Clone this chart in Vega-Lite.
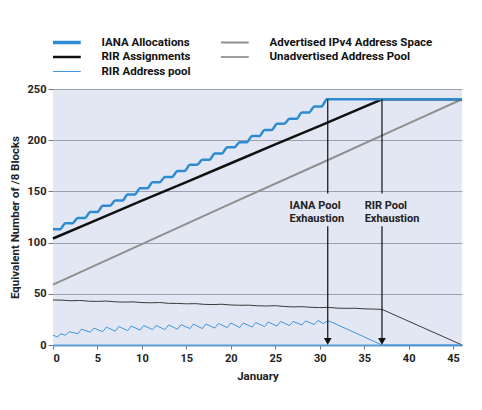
{
  "$schema": "https://vega.github.io/schema/vega-lite/v6.json",
  "width": 409,
  "height": 256,
  "autosize": {"type": "none"},
  "padding": {"left": 53, "top": 89, "right": 20, "bottom": 65},
  "background": "white",
  "config": {
    "font": "Roboto, Liberation Sans, sans-serif",
    "view": {"fill": "#e3e7f4", "stroke": null},
    "axis": {
      "labelFont": "Roboto, Liberation Sans, sans-serif",
      "titleFont": "Roboto, Liberation Sans, sans-serif",
      "labelFontWeight": "bold",
      "labelFontSize": 11,
      "labelColor": "#222222",
      "titleFontWeight": "bold",
      "titleFontSize": 11.5,
      "titleColor": "#222222",
      "tickColor": "#777777"
    },
    "legend": {
      "labelFont": "Roboto, Liberation Sans, sans-serif"
    }
  },
  "datasets": {
    "lines": [
      {"series": "IANA Allocations", "x": 0, "y": 113},
      {"series": "IANA Allocations", "x": 0.8, "y": 113},
      {"series": "IANA Allocations", "x": 1.4, "y": 119},
      {"series": "IANA Allocations", "x": 2.2, "y": 119},
      {"series": "IANA Allocations", "x": 2.8, "y": 124},
      {"series": "IANA Allocations", "x": 3.6, "y": 124},
      {"series": "IANA Allocations", "x": 4.2, "y": 130},
      {"series": "IANA Allocations", "x": 5.0, "y": 130},
      {"series": "IANA Allocations", "x": 5.6, "y": 136},
      {"series": "IANA Allocations", "x": 6.4, "y": 136},
      {"series": "IANA Allocations", "x": 7.0, "y": 141},
      {"series": "IANA Allocations", "x": 7.8, "y": 141},
      {"series": "IANA Allocations", "x": 8.4, "y": 147},
      {"series": "IANA Allocations", "x": 9.2, "y": 147},
      {"series": "IANA Allocations", "x": 9.8, "y": 153},
      {"series": "IANA Allocations", "x": 10.6, "y": 153},
      {"series": "IANA Allocations", "x": 11.2, "y": 159},
      {"series": "IANA Allocations", "x": 12.0, "y": 159},
      {"series": "IANA Allocations", "x": 12.6, "y": 164},
      {"series": "IANA Allocations", "x": 13.4, "y": 164},
      {"series": "IANA Allocations", "x": 14.0, "y": 170},
      {"series": "IANA Allocations", "x": 14.8, "y": 170},
      {"series": "IANA Allocations", "x": 15.4, "y": 176},
      {"series": "IANA Allocations", "x": 16.2, "y": 176},
      {"series": "IANA Allocations", "x": 16.8, "y": 181},
      {"series": "IANA Allocations", "x": 17.6, "y": 181},
      {"series": "IANA Allocations", "x": 18.2, "y": 187},
      {"series": "IANA Allocations", "x": 19.0, "y": 187},
      {"series": "IANA Allocations", "x": 19.6, "y": 193},
      {"series": "IANA Allocations", "x": 20.4, "y": 193},
      {"series": "IANA Allocations", "x": 21.0, "y": 198},
      {"series": "IANA Allocations", "x": 21.8, "y": 198},
      {"series": "IANA Allocations", "x": 22.4, "y": 204},
      {"series": "IANA Allocations", "x": 23.2, "y": 204},
      {"series": "IANA Allocations", "x": 23.8, "y": 210},
      {"series": "IANA Allocations", "x": 24.6, "y": 210},
      {"series": "IANA Allocations", "x": 25.2, "y": 216},
      {"series": "IANA Allocations", "x": 26.0, "y": 216},
      {"series": "IANA Allocations", "x": 26.6, "y": 221},
      {"series": "IANA Allocations", "x": 27.4, "y": 221},
      {"series": "IANA Allocations", "x": 28.0, "y": 227},
      {"series": "IANA Allocations", "x": 28.8, "y": 227},
      {"series": "IANA Allocations", "x": 29.4, "y": 233},
      {"series": "IANA Allocations", "x": 30.2, "y": 233},
      {"series": "IANA Allocations", "x": 30.8, "y": 240},
      {"series": "IANA Allocations", "x": 46, "y": 240},

      {"series": "Advertised IPv4 Address Space", "x": 0, "y": 59},
      {"series": "Advertised IPv4 Address Space", "x": 10, "y": 98.5},
      {"series": "Advertised IPv4 Address Space", "x": 20, "y": 138},
      {"series": "Advertised IPv4 Address Space", "x": 30, "y": 177},
      {"series": "Advertised IPv4 Address Space", "x": 40, "y": 216.5},
      {"series": "Advertised IPv4 Address Space", "x": 46, "y": 240},

      {"series": "RIR Assignments", "x": 0, "y": 104},
      {"series": "RIR Assignments", "x": 5, "y": 122.5},
      {"series": "RIR Assignments", "x": 10, "y": 141},
      {"series": "RIR Assignments", "x": 15, "y": 159},
      {"series": "RIR Assignments", "x": 20, "y": 177.5},
      {"series": "RIR Assignments", "x": 25, "y": 196},
      {"series": "RIR Assignments", "x": 30, "y": 214},
      {"series": "RIR Assignments", "x": 35, "y": 232.5},
      {"series": "RIR Assignments", "x": 37, "y": 240},
      {"series": "RIR Assignments", "x": 46, "y": 240},

      {"series": "Unadvertised Address Pool", "x": 0, "y": 44},
      {"series": "Unadvertised Address Pool", "x": 1, "y": 43.8},
      {"series": "Unadvertised Address Pool", "x": 2, "y": 43.2},
      {"series": "Unadvertised Address Pool", "x": 3, "y": 43.5},
      {"series": "Unadvertised Address Pool", "x": 4, "y": 42.8},
      {"series": "Unadvertised Address Pool", "x": 5, "y": 42.6},
      {"series": "Unadvertised Address Pool", "x": 6, "y": 42.9},
      {"series": "Unadvertised Address Pool", "x": 7, "y": 42.2},
      {"series": "Unadvertised Address Pool", "x": 8, "y": 41.9},
      {"series": "Unadvertised Address Pool", "x": 9, "y": 42.1},
      {"series": "Unadvertised Address Pool", "x": 10, "y": 41.4},
      {"series": "Unadvertised Address Pool", "x": 11, "y": 41.2},
      {"series": "Unadvertised Address Pool", "x": 12, "y": 41.5},
      {"series": "Unadvertised Address Pool", "x": 13, "y": 40.7},
      {"series": "Unadvertised Address Pool", "x": 14, "y": 40.6},
      {"series": "Unadvertised Address Pool", "x": 15, "y": 40.2},
      {"series": "Unadvertised Address Pool", "x": 16, "y": 40.4},
      {"series": "Unadvertised Address Pool", "x": 17, "y": 39.7},
      {"series": "Unadvertised Address Pool", "x": 18, "y": 39.5},
      {"series": "Unadvertised Address Pool", "x": 19, "y": 39.8},
      {"series": "Unadvertised Address Pool", "x": 20, "y": 39.1},
      {"series": "Unadvertised Address Pool", "x": 21, "y": 38.8},
      {"series": "Unadvertised Address Pool", "x": 22, "y": 38.9},
      {"series": "Unadvertised Address Pool", "x": 23, "y": 38.3},
      {"series": "Unadvertised Address Pool", "x": 24, "y": 38.1},
      {"series": "Unadvertised Address Pool", "x": 25, "y": 38.4},
      {"series": "Unadvertised Address Pool", "x": 26, "y": 37.6},
      {"series": "Unadvertised Address Pool", "x": 27, "y": 37.2},
      {"series": "Unadvertised Address Pool", "x": 28, "y": 37.4},
      {"series": "Unadvertised Address Pool", "x": 29, "y": 36.8},
      {"series": "Unadvertised Address Pool", "x": 30, "y": 36.5},
      {"series": "Unadvertised Address Pool", "x": 31, "y": 36.7},
      {"series": "Unadvertised Address Pool", "x": 32, "y": 36.0},
      {"series": "Unadvertised Address Pool", "x": 33, "y": 35.8},
      {"series": "Unadvertised Address Pool", "x": 34, "y": 35.9},
      {"series": "Unadvertised Address Pool", "x": 35, "y": 35.3},
      {"series": "Unadvertised Address Pool", "x": 36, "y": 35.1},
      {"series": "Unadvertised Address Pool", "x": 37, "y": 34.8},
      {"series": "Unadvertised Address Pool", "x": 46, "y": 0},

      {"series": "RIR Address pool", "x": 0, "y": 9.5},
      {"series": "RIR Address pool", "x": 0.5, "y": 8},
      {"series": "RIR Address pool", "x": 0.9, "y": 11},
      {"series": "RIR Address pool", "x": 1.4, "y": 9.5},
      {"series": "RIR Address pool", "x": 1.8, "y": 13},
      {"series": "RIR Address pool", "x": 2.8, "y": 11},
      {"series": "RIR Address pool", "x": 3.2, "y": 15.5},
      {"series": "RIR Address pool", "x": 4.2, "y": 12.5},
      {"series": "RIR Address pool", "x": 4.6, "y": 16.5},
      {"series": "RIR Address pool", "x": 5.6, "y": 13},
      {"series": "RIR Address pool", "x": 6.0, "y": 17.5},
      {"series": "RIR Address pool", "x": 7.0, "y": 13.5},
      {"series": "RIR Address pool", "x": 7.4, "y": 18},
      {"series": "RIR Address pool", "x": 8.4, "y": 14},
      {"series": "RIR Address pool", "x": 8.8, "y": 18.5},
      {"series": "RIR Address pool", "x": 9.8, "y": 14.5},
      {"series": "RIR Address pool", "x": 10.2, "y": 19},
      {"series": "RIR Address pool", "x": 11.2, "y": 15},
      {"series": "RIR Address pool", "x": 11.6, "y": 19},
      {"series": "RIR Address pool", "x": 12.6, "y": 15},
      {"series": "RIR Address pool", "x": 13.0, "y": 19.5},
      {"series": "RIR Address pool", "x": 14.0, "y": 15.5},
      {"series": "RIR Address pool", "x": 14.4, "y": 20},
      {"series": "RIR Address pool", "x": 15.4, "y": 16},
      {"series": "RIR Address pool", "x": 15.8, "y": 20.5},
      {"series": "RIR Address pool", "x": 16.8, "y": 16},
      {"series": "RIR Address pool", "x": 17.2, "y": 20.5},
      {"series": "RIR Address pool", "x": 18.2, "y": 16.5},
      {"series": "RIR Address pool", "x": 18.6, "y": 21},
      {"series": "RIR Address pool", "x": 19.6, "y": 17},
      {"series": "RIR Address pool", "x": 20.0, "y": 21.5},
      {"series": "RIR Address pool", "x": 21.0, "y": 17},
      {"series": "RIR Address pool", "x": 21.4, "y": 21.5},
      {"series": "RIR Address pool", "x": 22.4, "y": 17.5},
      {"series": "RIR Address pool", "x": 22.8, "y": 22},
      {"series": "RIR Address pool", "x": 23.8, "y": 18},
      {"series": "RIR Address pool", "x": 24.2, "y": 22.5},
      {"series": "RIR Address pool", "x": 25.2, "y": 18.5},
      {"series": "RIR Address pool", "x": 25.6, "y": 23},
      {"series": "RIR Address pool", "x": 26.6, "y": 19},
      {"series": "RIR Address pool", "x": 27.0, "y": 23},
      {"series": "RIR Address pool", "x": 28.0, "y": 19.5},
      {"series": "RIR Address pool", "x": 28.4, "y": 23.5},
      {"series": "RIR Address pool", "x": 29.4, "y": 20},
      {"series": "RIR Address pool", "x": 29.8, "y": 24},
      {"series": "RIR Address pool", "x": 30.4, "y": 21},
      {"series": "RIR Address pool", "x": 30.9, "y": 23.5},
      {"series": "RIR Address pool", "x": 31.3, "y": 22.5},
      {"series": "RIR Address pool", "x": 37, "y": 0},
      {"series": "RIR Address pool", "x": 46, "y": 0}
    ],
    "arrows": [
      {"x": 30.9, "y": 240, "y2": 148},
      {"x": 30.9, "y": 116, "y2": 5},
      {"x": 37, "y": 240, "y2": 148},
      {"x": 37, "y": 116, "y2": 5}
    ],
    "heads": [
      {"x": 30.9, "y": 3.5},
      {"x": 37, "y": 3.5}
    ],
    "notes": [
      {"x": 26.6, "y": 136, "label": "IANA Pool\nExhaustion"},
      {"x": 35.05, "y": 136, "label": "RIR Pool\nExhaustion"}
    ]
  },
  "layer": [
    {
      "data": {"name": "lines"},
      "transform": [{"filter": "datum.series != 'IANA Allocations'"}],
      "mark": {"type": "line", "interpolate": "linear"},
      "encoding": {
        "x": {
          "field": "x",
          "type": "quantitative",
          "scale": {"domain": [0, 46], "nice": false, "zero": false},
          "axis": {
            "values": [0, 5, 10, 15, 20, 25, 30, 35, 40, 45],
            "title": "January",
            "grid": false,
            "domainColor": "#5b9ad6",
            "domainWidth": 2,
            "tickSize": 4,
            "labelPadding": 3,
            "titlePadding": 7
          }
        },
        "y": {
          "field": "y",
          "type": "quantitative",
          "scale": {"domain": [0, 250], "nice": false},
          "axis": {
            "values": [0, 50, 100, 150, 200, 250],
            "title": "Equivalent Number of /8 Blocks",
            "grid": true,
            "gridColor": "#9aa0b0",
            "gridWidth": 1,
            "domain": false,
            "tickSize": 5,
            "labelPadding": 2,
            "titlePadding": 7
          }
        },
        "color": {
          "field": "series",
          "type": "nominal",
          "scale": {
            "domain": ["IANA Allocations", "RIR Assignments", "RIR Address pool", "Advertised IPv4 Address Space", "Unadvertised Address Pool"],
            "range": ["#2d8bd2", "#111111", "#3f95dd", "#8f8f8f", "#3a3a3a"]
          },
          "legend": {
            "title": null,
            "orient": "none",
            "legendX": 0,
            "legendY": -53,
            "columns": 2,
            "symbolType": "stroke",
            "symbolSize": 1936,
            "clipHeight": 13,
            "rowPadding": 1.5,
            "columnPadding": 30,
            "labelFontSize": 11.5,
            "labelFontWeight": "bold",
            "labelColor": "#111111",
            "labelOffset": 37,
            "labelLimit": 300,
            "encoding": {
              "symbols": {
                "strokeWidth": {"value": {"expr": "datum.value == 'IANA Allocations' ? 3.5 : datum.value == 'RIR Assignments' ? 2.5 : datum.value == 'Advertised IPv4 Address Space' ? 2 : 1.2"}}
              }
            }
          }
        },
        "strokeWidth": {
          "field": "series",
          "type": "nominal",
          "scale": {
            "type": "ordinal",
            "domain": ["IANA Allocations", "RIR Assignments", "RIR Address pool", "Advertised IPv4 Address Space", "Unadvertised Address Pool"],
            "range": [3.5, 2.5, 1, 2, 1]
          },
          "legend": null
        }
      }
    },
    {
      "data": {"name": "lines"},
      "transform": [{"filter": "datum.series == 'IANA Allocations'"}],
      "mark": {"type": "line", "interpolate": "monotone"},
      "encoding": {
        "x": {"field": "x", "type": "quantitative"},
        "y": {"field": "y", "type": "quantitative"},
        "color": {"field": "series", "type": "nominal"},
        "strokeWidth": {"field": "series", "type": "nominal", "legend": null}
      }
    },
    {
      "data": {"name": "arrows"},
      "mark": {"type": "rule", "color": "#111111", "strokeWidth": 1.2},
      "encoding": {
        "x": {"field": "x", "type": "quantitative"},
        "y": {"field": "y", "type": "quantitative"},
        "y2": {"field": "y2"}
      }
    },
    {
      "data": {"name": "heads"},
      "mark": {"type": "point", "shape": "triangle-down", "filled": true, "color": "#111111", "size": 60, "opacity": 1},
      "encoding": {
        "x": {"field": "x", "type": "quantitative"},
        "y": {"field": "y", "type": "quantitative"}
      }
    },
    {
      "data": {"name": "notes"},
      "mark": {"type": "text", "align": "left", "baseline": "middle", "lineBreak": "\n", "lineHeight": 13, "fontSize": 11, "fontWeight": "bold", "color": "#222222"},
      "encoding": {
        "x": {"field": "x", "type": "quantitative"},
        "y": {"field": "y", "type": "quantitative"},
        "text": {"field": "label"}
      }
    },
    {
      "mark": {"type": "rule", "color": "#8db3dd", "strokeWidth": 3},
      "encoding": {"y": {"datum": 250}}
    },
    {
      "mark": {"type": "rule", "color": "#3d8ed6", "strokeWidth": 3},
      "encoding": {"x": {"datum": 46}}
    }
  ]
}
